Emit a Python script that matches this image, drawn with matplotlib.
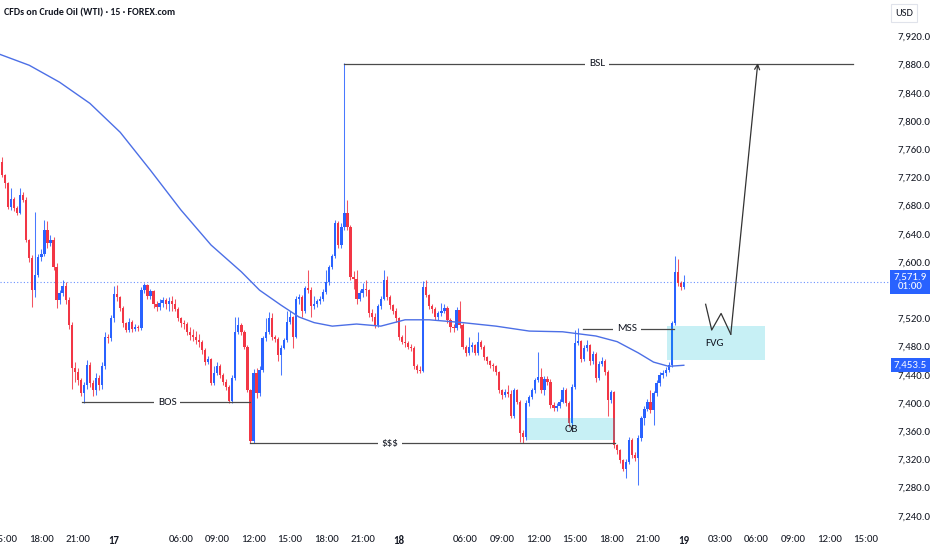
import matplotlib
matplotlib.use("Agg")
import matplotlib.pyplot as plt
import matplotlib.patches as mpatches
from matplotlib import font_manager as fm
import numpy as np
import pandas as pd

# pick a narrow face if one is installed, else plain Liberation Sans a bit smaller
names = {f.name for f in fm.fontManager.ttflist}
dejavu_cond = any(f.name == 'DejaVu Sans' and f.stretch == 'condensed'
                  for f in fm.fontManager.ttflist)
if 'Liberation Sans Narrow' in names:
    plt.rcParams['font.family'] = ['Liberation Sans Narrow', 'DejaVu Sans']
    FS = 7.5
elif 'Carlito' in names:
    plt.rcParams['font.family'] = ['Carlito', 'DejaVu Sans']
    FS = 7.8
elif dejavu_cond:
    plt.rcParams['font.family'] = ['DejaVu Sans']
    plt.rcParams['font.stretch'] = 'condensed'
    FS = 6.8
else:
    plt.rcParams['font.family'] = ['Liberation Sans', 'DejaVu Sans']
    FS = 6.7

# ---- 15 min candles (open of each bar = close of the bar before) ----
first_open = 7742
close = [7723, 7712, 7678, 7690, 7676, 7670, 7695, 7688, 7631, 7605,
         7560, 7582, 7607, 7611, 7645, 7627, 7631, 7593, 7546, 7556,
         7566, 7546, 7511, 7450, 7444, 7432, 7414, 7425, 7454, 7428,
         7418, 7435, 7425, 7452, 7494, 7492, 7520, 7555, 7551, 7535,
         7513, 7504, 7515, 7505, 7508, 7506, 7560, 7567, 7552, 7559,
         7540, 7536, 7542, 7546, 7541, 7544, 7540, 7534, 7520, 7513,
         7512, 7501, 7497, 7494, 7490, 7486, 7475, 7458, 7462, 7428,
         7442, 7453, 7440, 7430, 7423, 7403, 7436, 7500, 7510, 7501,
         7480, 7418, 7346, 7443, 7414, 7447, 7492, 7501, 7520, 7494,
         7491, 7468, 7478, 7489, 7515, 7522, 7494, 7548, 7551, 7530,
         7563, 7560, 7537, 7540, 7544, 7548, 7558, 7572, 7593, 7608,
         7655, 7624, 7650, 7669, 7650, 7579, 7576, 7548, 7556, 7561,
         7560, 7527, 7522, 7511, 7537, 7548, 7574, 7551, 7539, 7530,
         7520, 7494, 7487, 7485, 7480, 7478, 7452, 7447, 7446, 7565,
         7553, 7537, 7534, 7522, 7527, 7530, 7535, 7518, 7508, 7506,
         7532, 7511, 7480, 7471, 7480, 7482, 7471, 7487, 7480, 7465,
         7459, 7454, 7452, 7444, 7418, 7411, 7416, 7413, 7381, 7418,
         7402, 7357, 7352, 7400, 7409, 7418, 7433, 7437, 7418, 7434,
         7430, 7397, 7393, 7396, 7402, 7418, 7400, 7371, 7423, 7485,
         7488, 7463, 7478, 7482, 7459, 7470, 7435, 7456, 7459, 7444,
         7404, 7415, 7340, 7333, 7319, 7307, 7317, 7348, 7326, 7322,
         7350, 7378, 7392, 7402, 7390, 7414, 7428, 7440, 7442, 7447,
         7454, 7513, 7586, 7570, 7565, 7571.9]
high = [7749, 7725, 7714, 7705, 7692, 7680, 7705, 7699, 7692, 7633,
        7610, 7671, 7612, 7618, 7660, 7658, 7638, 7635, 7598, 7560,
        7575, 7572, 7550, 7515, 7458, 7450, 7436, 7430, 7461, 7458,
        7432, 7442, 7440, 7458, 7500, 7498, 7525, 7566, 7567, 7552,
        7538, 7515, 7520, 7518, 7512, 7511, 7564, 7570, 7569, 7562,
        7560, 7545, 7548, 7550, 7549, 7550, 7552, 7548, 7536, 7522,
        7518, 7515, 7508, 7505, 7502, 7498, 7490, 7478, 7466, 7464,
        7453, 7458, 7456, 7443, 7434, 7426, 7440, 7522, 7522, 7513,
        7503, 7482, 7420, 7448, 7449, 7452, 7495, 7520, 7529, 7527,
        7497, 7494, 7482, 7492, 7530, 7530, 7524, 7552, 7555, 7553,
        7566, 7589, 7565, 7552, 7548, 7552, 7562, 7589, 7596, 7612,
        7660, 7658, 7655, 7882, 7688, 7652, 7587, 7589, 7560, 7570,
        7575, 7562, 7534, 7527, 7540, 7552, 7589, 7580, 7553, 7541,
        7535, 7522, 7496, 7510, 7488, 7483, 7481, 7455, 7452, 7573,
        7574, 7555, 7540, 7536, 7530, 7542, 7540, 7537, 7520, 7512,
        7536, 7545, 7513, 7482, 7494, 7486, 7484, 7501, 7490, 7482,
        7467, 7461, 7457, 7454, 7446, 7420, 7420, 7425, 7418, 7421,
        7420, 7404, 7362, 7404, 7412, 7421, 7436, 7472, 7449, 7438,
        7438, 7434, 7402, 7400, 7406, 7422, 7421, 7403, 7427, 7504,
        7506, 7490, 7482, 7489, 7484, 7474, 7472, 7460, 7465, 7462,
        7447, 7418, 7417, 7342, 7335, 7321, 7320, 7352, 7350, 7330,
        7354, 7382, 7396, 7406, 7418, 7417, 7432, 7444, 7447, 7451,
        7458, 7516, 7608, 7604, 7573, 7582]
low = [7720, 7705, 7675, 7674, 7672, 7666, 7668, 7685, 7628, 7600,
       7536, 7550, 7578, 7602, 7608, 7620, 7622, 7588, 7535, 7540,
       7552, 7540, 7505, 7420, 7430, 7425, 7410, 7400, 7420, 7422,
       7410, 7412, 7418, 7420, 7448, 7485, 7488, 7515, 7545, 7530,
       7508, 7500, 7500, 7500, 7502, 7502, 7504, 7556, 7548, 7548,
       7535, 7530, 7532, 7536, 7534, 7530, 7530, 7530, 7516, 7508,
       7505, 7496, 7490, 7488, 7484, 7480, 7470, 7454, 7455, 7425,
       7426, 7440, 7436, 7426, 7418, 7400, 7400, 7432, 7498, 7496,
       7476, 7415, 7343, 7343, 7407, 7410, 7444, 7488, 7498, 7490,
       7486, 7459, 7440, 7476, 7487, 7512, 7478, 7492, 7540, 7522,
       7528, 7556, 7522, 7534, 7536, 7540, 7544, 7554, 7568, 7590,
       7605, 7620, 7620, 7646, 7646, 7575, 7562, 7540, 7544, 7550,
       7552, 7522, 7516, 7507, 7508, 7534, 7546, 7546, 7534, 7526,
       7515, 7490, 7483, 7480, 7476, 7474, 7448, 7443, 7443, 7444,
       7550, 7533, 7528, 7518, 7518, 7524, 7527, 7514, 7500, 7500,
       7504, 7506, 7476, 7466, 7468, 7472, 7468, 7468, 7476, 7461,
       7455, 7450, 7446, 7440, 7414, 7405, 7408, 7408, 7378, 7378,
       7398, 7344, 7343, 7348, 7396, 7406, 7414, 7430, 7414, 7412,
       7426, 7393, 7388, 7388, 7393, 7400, 7396, 7366, 7368, 7420,
       7482, 7458, 7460, 7474, 7454, 7456, 7430, 7432, 7452, 7440,
       7381, 7400, 7336, 7328, 7315, 7303, 7293, 7314, 7322, 7318,
       7284, 7346, 7369, 7388, 7386, 7369, 7410, 7424, 7436, 7438,
       7444, 7451, 7510, 7566, 7560, 7562]

# moving average (bar index, value)
ma_bar = [-1, 9, 19, 29, 39, 49, 59, 69, 79, 85, 92, 98, 103, 109, 117,
          125, 133, 141, 152, 163, 174, 185, 196, 203, 210, 215, 220, 225]
ma_val = [7895, 7879, 7855, 7825, 7784, 7730, 7674, 7624, 7586, 7560, 7539,
          7522, 7514, 7509, 7512, 7509, 7518, 7518, 7514, 7509, 7502, 7501,
          7495, 7487, 7471, 7458, 7452, 7453.5]

# time axis labels
tick_times = ['2025-06-16 15:00', '2025-06-16 18:00', '2025-06-16 21:00',
              '2025-06-17 00:00', '2025-06-17 06:00', '2025-06-17 09:00',
              '2025-06-17 12:00', '2025-06-17 15:00', '2025-06-17 18:00',
              '2025-06-17 21:00', '2025-06-18 00:00', '2025-06-18 06:00',
              '2025-06-18 09:00', '2025-06-18 12:00', '2025-06-18 15:00',
              '2025-06-18 18:00', '2025-06-18 21:00', '2025-06-19 00:00',
              '2025-06-19 03:00', '2025-06-19 06:00', '2025-06-19 09:00',
              '2025-06-19 12:00', '2025-06-19 15:00']
tick_labels = ['15:00', '18:00', '21:00', '17', '06:00', '09:00', '12:00',
               '15:00', '18:00', '21:00', '18', '06:00', '09:00', '12:00',
               '15:00', '18:00', '21:00', '19', '03:00', '06:00', '09:00',
               '12:00', '15:00']
day_labels = ['17', '18', '19']
price_ticks = np.arange(7240, 7921, 40)
hidden_price_ticks = [7560]   # covered by the last-price box

# drawings on the chart (bar index, price)
bos_line = [26.4, 81.8, 7401]
sss_line = [82.0, 202.3, 7343]
mss_line = [191.7, 221.8, 7505]
bsl_line = [113.0, 280.9, 7881]
ob_box = [173.3, 202.3, 7347.5, 7378.7]
fvg_box = [219.5, 251.8, 7461, 7509]
zig_x = [232.2, 234.2, 237.3, 240.5]
zig_y = [7540, 7503.5, 7527, 7497.5]
arrow_to = [249.4, 7882]

RED = '#F23645'
BLUE = '#2962FF'
INK = '#131722'
LINE = '#4a4a4a'
BOXC = '#00BCD4'

# bar timeline: session gap 02:45-03:00 on 17 and 18, future bars without gaps
bars = pd.date_range('2025-06-16 14:45', '2025-06-19 00:00', freq='15min')
gap = bars.day.isin([17, 18]) & bars.strftime('%H:%M').isin(['02:45', '03:00'])
bars = bars[~gap]
future = pd.date_range(bars[-1] + pd.Timedelta('15min'), periods=90, freq='15min')
timeline = bars.append(future)
tick_pos = [timeline.get_loc(pd.Timestamp(t)) for t in tick_times]

fig = plt.figure(figsize=(9.32, 5.5), dpi=100)
ax = fig.add_axes([0, 23 / 550, 892 / 932, 527 / 550])
ax.set_xlim(-0.66, 293.7)
ax.set_ylim(7224.1, 7971.6)
for s in ax.spines.values():
    s.set_visible(False)

# candles
c = np.array(close, dtype=float)
o = np.r_[first_open, c[:-1]]
x = np.arange(len(c))
cols = np.where(c >= o, BLUE, RED)
ax.vlines(x, low, high, colors=cols, lw=0.75, alpha=0.85, zorder=2)
ax.bar(x, np.maximum(np.abs(c - o), 1.0), bottom=np.minimum(o, c), width=0.74,
       color=cols, lw=0, zorder=3)

# moving average
ax.plot(ma_bar, ma_val, color='#4C6FE6', lw=1.0, zorder=4)

# last price line
ax.axhline(c[-1], color=BLUE, lw=0.8, ls=(0, (1, 2)), alpha=0.7, zorder=1)

# boxes
for b in (ob_box, fvg_box):
    ax.add_patch(mpatches.Rectangle((b[0], b[2]), b[1] - b[0], b[3] - b[2],
                                    fc=BOXC, alpha=0.22, ec='none', zorder=5))
ax.text((ob_box[0] + ob_box[1]) / 2, 7362, 'OB', ha='center', va='center',
        fontsize=FS + 0.3, color=INK, zorder=6)
ax.text(235, 7484, 'FVG', ha='center', va='center', fontsize=FS + 0.3, color=INK, zorder=6)

# horizontal levels with labels
labels = [(bos_line, 'BOS', 54.5), (sss_line, '$$$', 128), (mss_line, 'MSS', 206.3),
          (bsl_line, 'BSL', 196.4)]
for ln, txt, lx in labels:
    ax.plot([ln[0], ln[1]], [ln[2], ln[2]], color=LINE, lw=0.9, zorder=5)
    ax.text(lx, ln[2], txt, ha='center', va='center', fontsize=FS + 0.3, color=INK,
            zorder=6, bbox=dict(boxstyle='square,pad=0.35', fc='white', ec='none'))

# projected path
ax.plot(zig_x, zig_y, color='#333333', lw=0.9, zorder=6)
ax.annotate('', xy=(arrow_to[0], arrow_to[1]), xytext=(zig_x[-1], zig_y[-1]),
            arrowprops=dict(arrowstyle='->', color='#333333', lw=0.9,
                            mutation_scale=9, shrinkA=0, shrinkB=0), zorder=6)

# axes
ax.yaxis.tick_right()
ax.set_yticks(price_ticks)
ax.set_yticklabels(['' if v in hidden_price_ticks else f'{v:,.1f}' for v in price_ticks])
ax.tick_params(axis='y', length=0, pad=4, labelsize=FS, labelcolor=INK)
ax.set_xticks(tick_pos)
ax.set_xticklabels(tick_labels)
ax.tick_params(axis='x', length=0, pad=6, labelsize=FS, labelcolor=INK)
for t in ax.get_xticklabels():
    if t.get_text() in day_labels:
        t.set_fontweight('bold')

# price boxes on the scale
ax.text(1.0205, c[-1], f'{c[-1]:,.1f}\n01:00', transform=ax.get_yaxis_transform(),
        ha='center', va='center', color='white', fontsize=FS, linespacing=1.0,
        clip_on=False, zorder=7,
        bbox=dict(boxstyle='square,pad=0.3', fc=BLUE, ec='none'))
ax.text(1.0205, ma_val[-1], f'{ma_val[-1]:,.1f}', transform=ax.get_yaxis_transform(),
        ha='center', va='center', color='white', fontsize=FS, clip_on=False, zorder=7,
        bbox=dict(boxstyle='square,pad=0.25', fc=BLUE, ec='none'))

fig.text(904 / 932, 1 - 13 / 550, 'USD', ha='center', va='center', fontsize=FS - 0.3,
         color=INK, bbox=dict(boxstyle='square,pad=0.4', fc='white', ec='#e0e3eb', lw=0.8))
fig.text(4 / 932, 1 - 13 / 550, 'CFDs on Crude Oil (WTI) · 15 · FOREX.com',
         ha='left', va='center', fontsize=FS - 0.6, color=INK, fontweight='bold')

fig.savefig('out.png', dpi=100)
